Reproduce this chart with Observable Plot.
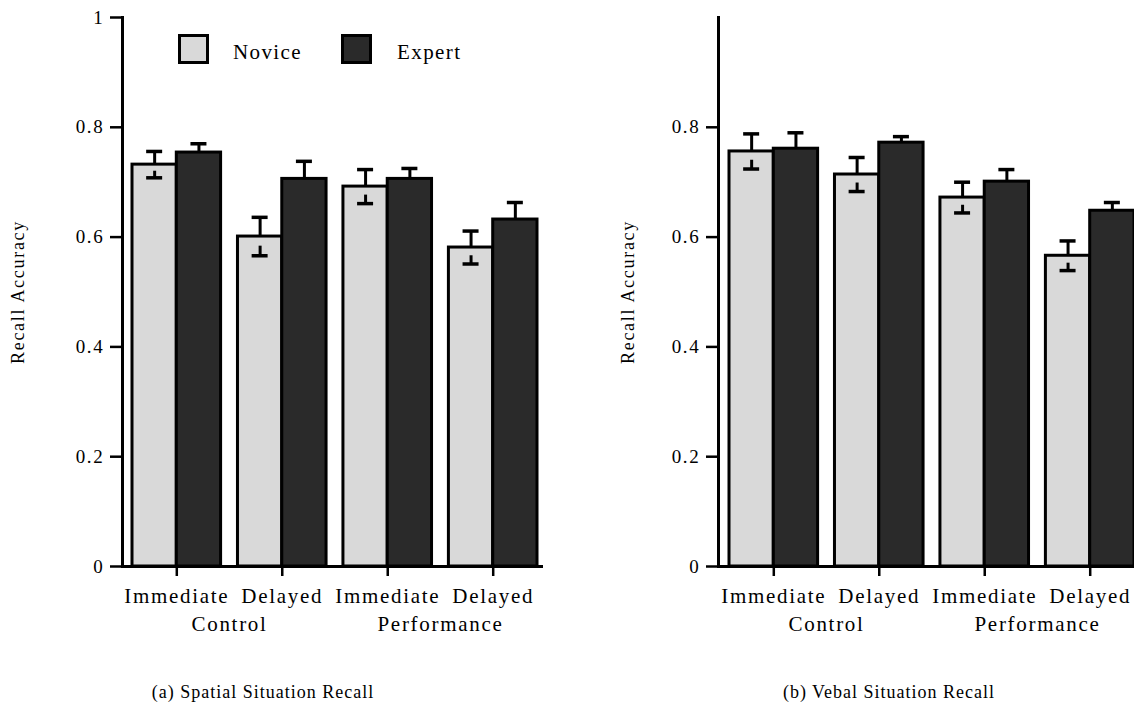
<!DOCTYPE html>
<html><head><meta charset="utf-8">
<script src="https://cdn.jsdelivr.net/npm/d3@7"></script>
<script src="https://cdn.jsdelivr.net/npm/@observablehq/plot@0.6"></script>
<style>
html,body{margin:0;padding:0;background:#fff;}
#wrap{position:relative;width:1134px;height:708px;overflow:hidden;color:#000;}
#wrap, #wrap *{font-family:'Liberation Serif', serif !important;}
#wrap svg{letter-spacing:1.7px;}
.abs{position:absolute;}
.box{position:absolute;box-sizing:border-box;border:3px solid #000;width:31px;height:30px;top:34px;}
.leg{position:absolute;font-size:21px;line-height:21px;letter-spacing:1.4px;top:42px;}
.cap{position:absolute;width:400px;text-align:center;font-size:18px;line-height:18px;letter-spacing:1px;top:683px;}
</style></head><body>
<div id="wrap">
  <div id="left" class="abs" style="left:0;top:0"></div>
  <div id="right" class="abs" style="left:560px;top:0"></div>
  <div class="box" style="left:178px;background:#d9d9d9"></div>
  <div class="leg" style="left:233px">Novice</div>
  <div class="box" style="left:341px;background:#2a2a2a"></div>
  <div class="leg" style="left:397px">Expert</div>
  <div class="cap" style="left:63px">(a) Spatial Situation Recall</div>
  <div class="cap" style="left:689px">(b) Vebal Situation Recall</div>
</div>
<script>
const conditions = ["Immediate", "Delayed", "Immediate", "Delayed"];
const groups = ["Control", "Control", "Performance", "Performance"];
const levels = ["Novice", "Expert"];
const spatialNovice = [0.732, 0.601, 0.692, 0.581];
const spatialNoviceErr = [0.024, 0.035, 0.031, 0.030];
const spatialExpert = [0.754, 0.706, 0.706, 0.632];
const spatialExpertErr = [0.016, 0.032, 0.019, 0.031];
const verbalNovice = [0.756, 0.714, 0.672, 0.566];
const verbalNoviceErr = [0.032, 0.031, 0.028, 0.027];
const verbalExpert = [0.761, 0.772, 0.701, 0.648];
const verbalExpertErr = [0.029, 0.011, 0.022, 0.015];
const yTicksLeft = [0, 0.2, 0.4, 0.6, 0.8, 1];
const yTicksRight = [0, 0.2, 0.4, 0.6, 0.8];
const yLabel = "Recall Accuracy";

function chart({novice, noviceErr, expert, expertErr, width, marginLeft, marginRight, range, yTicks, labelDx}) {
  const keys = conditions.map((c, i) => c + "|" + groups[i]);
  const rows = [];
  keys.forEach((k, i) => {
    rows.push({key: k, level: levels[0], value: novice[i], err: noviceErr[i]});
    rows.push({key: k, level: levels[1], value: expert[i], err: expertErr[i]});
  });
  const pi = 0.16;
  const step = (range[1] - range[0]) / (keys.length - pi);
  const bw = step * (1 - pi);
  const q = bw / 4, capHalf = 8;
  const nov = rows.filter(d => d.level === levels[0]);
  const exp = rows.filter(d => d.level === levels[1]);
  const groupLabels = [{key: keys[1], label: groups[0]}, {key: keys[3], label: groups[2]}];
  const errMarks = (data, side, lower) => {
    const dx = side * q;
    const insL = side < 0 ? q - capHalf : 3 * q - capHalf;
    const insR = side < 0 ? 3 * q - capHalf : q - capHalf;
    const m = [
      Plot.ruleX(data, {x: "key", y1: "value", y2: d => d.value + d.err, dx, stroke: "black", strokeWidth: 3}),
      Plot.tickY(data, {x: "key", y: d => d.value + d.err, insetLeft: insL, insetRight: insR, stroke: "black", strokeWidth: 3.5})
    ];
    if (lower) m.push(
      Plot.ruleX(data, {x: "key", y1: d => d.value - d.err, y2: d => d.value - d.err / 2, dx, stroke: "black", strokeWidth: 3}),
      Plot.tickY(data, {x: "key", y: d => d.value - d.err, insetLeft: insL, insetRight: insR, stroke: "black", strokeWidth: 3.5})
    );
    return m;
  };
  return Plot.plot({
    width, height: 660, marginTop: 17, marginBottom: 94, marginLeft, marginRight,
    style: "background: white; color: black; overflow: visible;",
    x: {domain: keys, range, paddingInner: pi, paddingOuter: 0, round: false, axis: null},
    y: {domain: [0, 1], axis: null},
    marks: [
      Plot.barY(nov, {x: "key", y: "value", fill: "#d9d9d9", stroke: "black", strokeWidth: 3, insetRight: bw / 2}),
      Plot.barY(exp, {x: "key", y: "value", fill: "#2a2a2a", stroke: "black", strokeWidth: 3, insetLeft: bw / 2}),
      ...errMarks(nov, -1, true),
      ...errMarks(exp, 1, false),
      Plot.ruleY([0], {stroke: "black", strokeWidth: 3}),
      Plot.frame({anchor: "left", stroke: "black", strokeWidth: 3}),
      Plot.axisY({ticks: yTicks, tickSize: 12, tickPadding: 6, strokeWidth: 2.5, tickFormat: d => String(d), label: null, fontSize: 19}),
      Plot.axisX({tickSize: 10, tickPadding: 12, strokeWidth: 2.5, tickFormat: k => k.split("|")[0], label: null, fontSize: 21}),
      Plot.text(groupLabels, {x: "key", y: () => 0, text: "label", dx: -step / 2, dy: 58, fontSize: 21}),
      Plot.text([yLabel], {frameAnchor: "left", dx: labelDx, rotate: -90, textAnchor: "middle", fontSize: 18, text: d => d})
    ]
  });
}

document.getElementById("left").appendChild(chart({
  novice: spatialNovice, noviceErr: spatialNoviceErr, expert: spatialExpert, expertErr: spatialExpertErr,
  width: 560, marginLeft: 122, marginRight: 17, range: [132, 537], yTicks: yTicksLeft, labelDx: -104
}));
document.getElementById("right").appendChild(chart({
  novice: verbalNovice, noviceErr: verbalNoviceErr, expert: verbalExpert, expertErr: verbalExpertErr,
  width: 574, marginLeft: 158, marginRight: 0, range: [169, 574], yTicks: yTicksRight, labelDx: -90
}));
</script>
</body></html>
